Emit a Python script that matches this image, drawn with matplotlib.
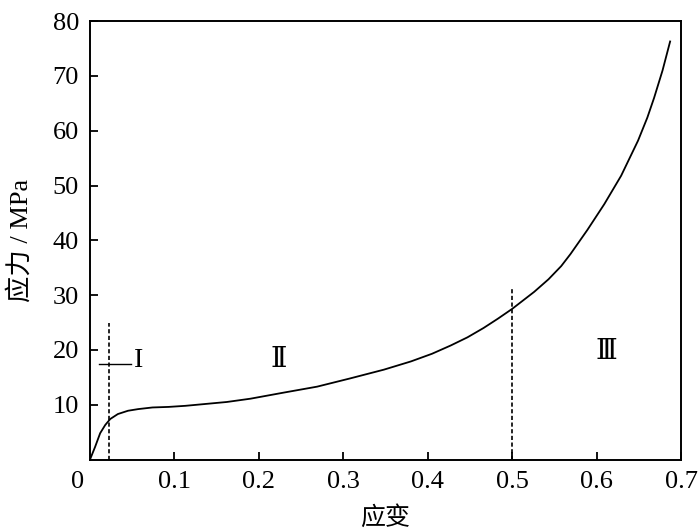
import numpy as np
import matplotlib.pyplot as plt

# 应力-应变曲线
strain = [0.0, 0.006, 0.012, 0.018, 0.024, 0.033, 0.045, 0.057, 0.074, 0.093,
          0.113, 0.134, 0.162, 0.190, 0.229, 0.269, 0.308, 0.348, 0.380, 0.405,
          0.427, 0.447, 0.466, 0.483, 0.500, 0.526, 0.543, 0.558, 0.569, 0.589,
          0.609, 0.629, 0.649, 0.660, 0.668, 0.678, 0.687]
stress = [0.0, 2.3, 4.8, 6.3, 7.4, 8.3, 8.9, 9.2, 9.5, 9.6,
          9.8, 10.1, 10.5, 11.1, 12.2, 13.3, 14.8, 16.4, 17.9, 19.3,
          20.8, 22.3, 24.0, 25.7, 27.5, 30.6, 32.9, 35.3, 37.5, 41.9,
          46.6, 51.8, 58.2, 62.4, 66.0, 71.0, 76.3]

# 分区虚线: (应变, 顶端应力)
div_x = [0.022, 0.5]
div_top = [25.0, 31.3]

# 分区标注
zone_labels = ["I", "Ⅱ", "Ⅲ"]
zone_x = [0.057, 0.223, 0.612]
zone_y = [18.0, 18.0, 19.5]

xticks = [0.1, 0.2, 0.3, 0.4, 0.5, 0.6, 0.7]
yticks = [10, 20, 30, 40, 50, 60, 70, 80]

serif = ['Liberation Serif', 'DejaVu Serif', 'Noto Sans CJK SC']
plt.rcParams['font.family'] = serif
plt.rcParams['font.size'] = 19

fig = plt.figure(figsize=(7, 5.3), dpi=100)
ax = fig.add_axes([0.1286, 0.133, 0.8444, 0.827])

ax.plot(strain, stress, color='black', lw=1.3, solid_joinstyle='round')
for x, top in zip(div_x, div_top):
    ax.plot([x, x], [0, top], color='black', lw=1.2, ls=(0, (2.5, 1.5)))

# I 区引线
ax.plot([0.011, 0.048], [17.5, 17.5], color='black', lw=1.0)
for lab, x, y in zip(zone_labels, zone_x, zone_y):
    ax.text(x, y, lab, ha='center', va='center', fontsize=20, family=serif)

ax.set_xlim(0, 0.7)
ax.set_ylim(0, 80)
ax.set_xticks(xticks)
ax.set_xticklabels([str(t) for t in xticks])
ax.set_yticks(yticks)
ax.tick_params(direction='in', length=6, width=1.3, pad=8)
for s in ax.spines.values():
    s.set_linewidth(1.4)

ax.annotate('0', xy=(0, 0), xytext=(-4, -8), textcoords='offset points',
            ha='right', va='top', fontsize=19)

ax.set_xlabel('应变', family=['Noto Sans CJK SC'], fontsize=18, labelpad=9)
ax.set_ylabel('应力 / MPa', family=['Liberation Serif', 'Noto Sans CJK SC'],
              fontsize=19, labelpad=14)

fig.savefig('out.png', dpi=100)
